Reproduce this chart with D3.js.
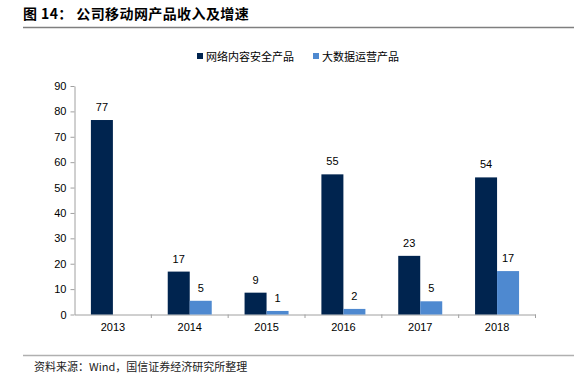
<!DOCTYPE html>
<html><head><meta charset="utf-8">
<script src="https://cdn.jsdelivr.net/npm/d3@7"></script>
<style>body{margin:0;background:#fff}svg{display:block}</style>
</head><body><svg id="c" width="580" height="383"></svg>
<script>
const years = ["2013","2014","2015","2016","2017","2018"];
const seriesNames = ["网络内容安全产品","大数据运营产品"];
const security = [76.6, 16.9, 8.6, 55.2, 23.1, 54.0];
const bigdata = [null, 5.4, 1.4, 2.2, 5.2, 17.1];
const yTicks = [0,10,20,30,40,50,60,70,80,90];
const colors = ["#00244f", "#4e89d0"];

const svg = d3.select("#c");
const cjk = "'Noto Sans CJK SC', sans-serif";
const latin = "'Liberation Sans', Arial, sans-serif";

// title
svg.append("text").attr("x", 23).attr("y", 19).attr("font-family", cjk)
  .attr("font-size", 14).attr("font-weight", "bold").attr("fill", "#000")
  .attr("letter-spacing", 0.4)
  .text("图 14： 公司移动网产品收入及增速");
svg.append("line").attr("x1", 23).attr("x2", 574).attr("y1", 27.5).attr("y2", 27.5)
  .attr("stroke", "#7f7f7f").attr("stroke-width", 1.5);

// footer
svg.append("line").attr("x1", 23).attr("x2", 574).attr("y1", 355.5).attr("y2", 355.5)
  .attr("stroke", "#b0b0b0").attr("stroke-width", 1.5);
svg.append("text").attr("x", 34).attr("y", 371).attr("font-family", cjk)
  .attr("font-size", 11).attr("fill", "#222")
  .text("资料来源：Wind，国信证券经济研究所整理");

const x0 = d3.scaleBand().domain(years).range([74.5, 535.5]).paddingInner(0).paddingOuter(0);
const x1 = d3.scaleBand().domain([0,1]).range([16.4, 60.4]);
const y = d3.scaleLinear().domain([0, 90]).range([314.5, 86]);

// y axis
const ya = svg.append("g").attr("transform", "translate(74.5,0)")
  .call(d3.axisLeft(y).tickValues(yTicks).tickSize(4).tickSizeOuter(0));
ya.select(".domain").attr("stroke", "#a0a0a0");
ya.selectAll(".tick line").attr("stroke", "#a0a0a0");
ya.selectAll(".tick text").attr("font-family", latin).attr("font-size", 11).attr("fill", "#000").attr("x", -8);

// x axis
const xa = svg.append("g").attr("transform", "translate(0,314.5)")
  .call(d3.axisBottom(x0).tickSize(0).tickSizeOuter(0));
xa.select(".domain").attr("stroke", "#a0a0a0");
xa.selectAll(".tick text").attr("font-family", latin).attr("font-size", 11).attr("fill", "#000").attr("dy", "1.25em");
// boundary ticks
svg.append("g").selectAll("line").data(years.slice(1).concat(["end"])).join("line")
  .attr("x1", (d,i) => x0.range()[0] + x0.step()*(i+1)).attr("x2", (d,i) => x0.range()[0] + x0.step()*(i+1))
  .attr("y1", 314.5).attr("y2", 318).attr("stroke", "#a0a0a0");

const data = [security, bigdata];
data.forEach((vals, s) => {
  const g = svg.append("g");
  const pts = years.map((yr, i) => ({yr, v: vals[i]})).filter(d => d.v != null);
  g.selectAll("rect").data(pts).join("rect")
    .attr("x", d => x0(d.yr) + x1(s))
    .attr("width", x1.bandwidth())
    .attr("y", d => y(d.v))
    .attr("height", d => y(0) - y(d.v))
    .attr("fill", colors[s]);
  g.selectAll("text").data(pts).join("text")
    .attr("x", d => x0(d.yr) + x1(s) + x1.bandwidth()/2)
    .attr("y", d => y(d.v) - 9)
    .attr("text-anchor", "middle").attr("font-family", latin).attr("font-size", 11).attr("fill", "#000")
    .text(d => Math.round(d.v));
});

// legend
const lg = svg.append("g");
const lx = [197, 313];
seriesNames.forEach((n, i) => {
  lg.append("rect").attr("x", lx[i]).attr("y", 53).attr("width", 6).attr("height", 6).attr("fill", colors[i]);
  lg.append("text").attr("x", lx[i] + 9).attr("y", 60.5).attr("font-family", cjk)
    .attr("font-size", 11).attr("fill", "#000").text(n);
});
</script></body></html>
